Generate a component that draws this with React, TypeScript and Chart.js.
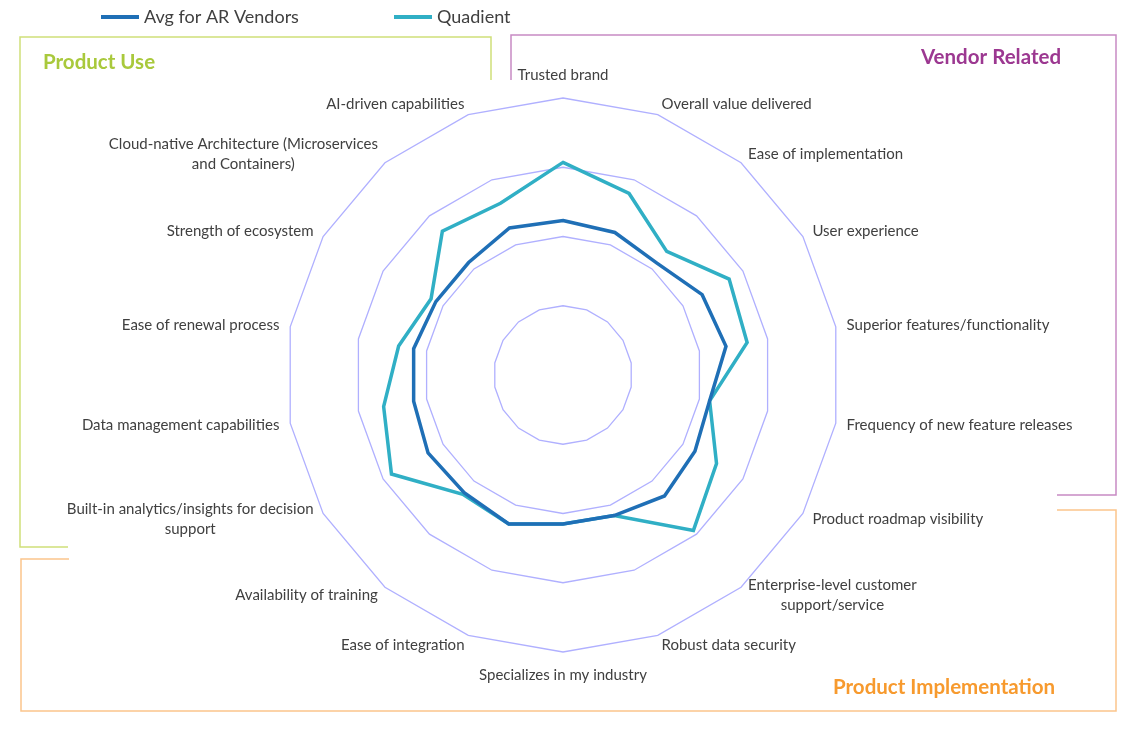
import React, { useEffect, useRef } from "react";
import { Chart, registerables } from "chart.js";

Chart.register(...registerables);

const categories: (string | string[])[] = [
  "Trusted brand",
  "Overall value delivered",
  "Ease of implementation",
  "User experience",
  "Superior features/functionality",
  "Frequency of new feature releases",
  "Product roadmap visibility",
  ["Enterprise-level customer", "support/service"],
  "Robust data security",
  "Specializes in my industry",
  "Ease of integration",
  "Availability of training",
  ["Built-in analytics/insights for decision", "support"],
  "Data management capabilities",
  "Ease of renewal process",
  "Strength of ecosystem",
  ["Cloud-native Architecture (Microservices", "and Containers)"],
  "AI-driven capabilities",
];

const avgValues = [2.23, 2.19, 2.11, 2.32, 2.39, 2.15, 2.2, 2.28, 2.16, 2.15, 2.29, 2.22, 2.25, 2.19, 2.19, 2.12, 2.12, 2.26];
const quadientValues = [3.07, 2.79, 2.33, 2.77, 2.7, 2.15, 2.56, 2.93, 2.16, 2.15, 2.29, 2.25, 2.86, 2.63, 2.41, 2.2, 2.71, 2.64];

const seriesNames = ["Avg for AR Vendors", "Quadient"];
const seriesColors = ["#1f6fb6", "#30afc5"];

const scaleMin = 0;
const scaleMax = 4;
const scaleStep = 1;

const groupTitles = ["Product Use", "Vendor Related", "Product Implementation"];
const groupColors = ["#a9c93c", "#9c3891", "#f79a2e"];
const groupLineColors = ["#cfe07a", "#c88ac4", "#fbc58c"];

const LABEL_FONT = "15px Lato";
const LABEL_COLOR = "#404040";

const decorPlugin = {
  id: "decor",
  afterDraw(chart: any) {
    const ctx: CanvasRenderingContext2D = chart.ctx;
    const scale = chart.scales.r;
    ctx.save();

    // group brackets
    const poly = (color: string, pts: number[][]) => {
      ctx.strokeStyle = color;
      ctx.lineWidth = 1.5;
      ctx.beginPath();
      pts.forEach((p, i) => (i === 0 ? ctx.moveTo(p[0], p[1]) : ctx.lineTo(p[0], p[1])));
      ctx.stroke();
    };
    poly(groupLineColors[0], [[491, 80], [491, 37], [20, 37], [20, 547], [68, 547]]);
    poly(groupLineColors[1], [[511, 80], [511, 35], [1116, 35], [1116, 495], [1057, 495]]);
    poly(groupLineColors[2], [[1057, 510], [1116, 510], [1116, 711], [21, 711], [21, 559], [69, 559]]);

    // group titles
    ctx.font = "bold 20.5px Lato";
    ctx.textBaseline = "middle";
    ctx.textAlign = "left";
    ctx.fillStyle = groupColors[0];
    ctx.fillText(groupTitles[0], 43, 62);
    ctx.fillStyle = groupColors[1];
    ctx.fillText(groupTitles[1], 921, 57);
    ctx.fillStyle = groupColors[2];
    ctx.fillText(groupTitles[2], 833, 687);

    // legend
    const legendX = [101, 394];
    ctx.font = "18px Lato";
    chart.data.datasets.forEach((ds: any, i: number) => {
      ctx.strokeStyle = ds.borderColor;
      ctx.lineWidth = 4;
      ctx.beginPath();
      ctx.moveTo(legendX[i], 17);
      ctx.lineTo(legendX[i] + 38, 17);
      ctx.stroke();
      ctx.fillStyle = "#404040";
      ctx.fillText(ds.label, legendX[i] + 43, 17);
    });

    // point labels
    ctx.font = LABEL_FONT;
    ctx.fillStyle = LABEL_COLOR;
    const lineH = 20;
    const labels = chart.data.labels as (string | string[])[];
    labels.forEach((lab, i) => {
      const lines = Array.isArray(lab) ? lab : [lab];
      const ang = scale.getIndexAngle(i);
      const s = Math.sin(ang);
      const c = Math.cos(ang);
      const widths = lines.map((l) => ctx.measureText(l).width);
      const bw = Math.max(...widths);
      ctx.textBaseline = "middle";
      ctx.textAlign = "center";
      if (Math.abs(s) < 0.05) {
        const p = scale.getPointPosition(i, scale.drawingArea + 16);
        const bh = lines.length * lineH;
        const top = c > 0 ? p.y - bh + 3 : p.y - 3;
        lines.forEach((l, k) => ctx.fillText(l, p.x, top + lineH * (k + 0.5)));
      } else {
        const p = scale.getPointPosition(i, scale.drawingArea + 11);
        const cx = s > 0 ? p.x + bw / 2 : p.x - bw / 2;
        const top = p.y - (lines.length * lineH) / 2;
        lines.forEach((l, k) => ctx.fillText(l, cx, top + lineH * (k + 0.5)));
      }
    });
    ctx.restore();
  },
};

export default function App() {
  const ref = useRef<HTMLCanvasElement | null>(null);
  useEffect(() => {
    if (!ref.current) return;
    const chart = new Chart(ref.current, {
      type: "radar",
      data: {
        labels: categories as any,
        datasets: [
          {
            label: seriesNames[0],
            data: avgValues,
            borderColor: seriesColors[0],
            backgroundColor: seriesColors[0],
            borderWidth: 3.5,
            pointRadius: 0,
            fill: false,
          },
          {
            label: seriesNames[1],
            data: quadientValues,
            borderColor: seriesColors[1],
            backgroundColor: seriesColors[1],
            borderWidth: 3.5,
            pointRadius: 0,
            fill: false,
          },
        ],
      },
      options: {
        responsive: false,
        animation: false,
        layout: { padding: { top: 98, bottom: 81, left: 0, right: 9 } },
        plugins: { legend: { display: false }, tooltip: { enabled: false } },
        elements: { line: { tension: 0, borderJoinStyle: "miter" } },
        scales: {
          r: {
            min: scaleMin,
            max: scaleMax,
            ticks: { display: false, stepSize: scaleStep },
            angleLines: { display: false },
            grid: { color: "#b0b0ff", lineWidth: 1.3 },
            pointLabels: { display: false },
          },
        },
      },
      plugins: [decorPlugin],
    });
    return () => chart.destroy();
  }, []);
  return (
    <div style={{ position: "absolute", left: 0, top: 0, width: 1135, height: 734, background: "#fff" }}>
      <canvas ref={ref} width={1135} height={734} style={{ display: "block", width: 1135, height: 734 }} />
    </div>
  );
}
